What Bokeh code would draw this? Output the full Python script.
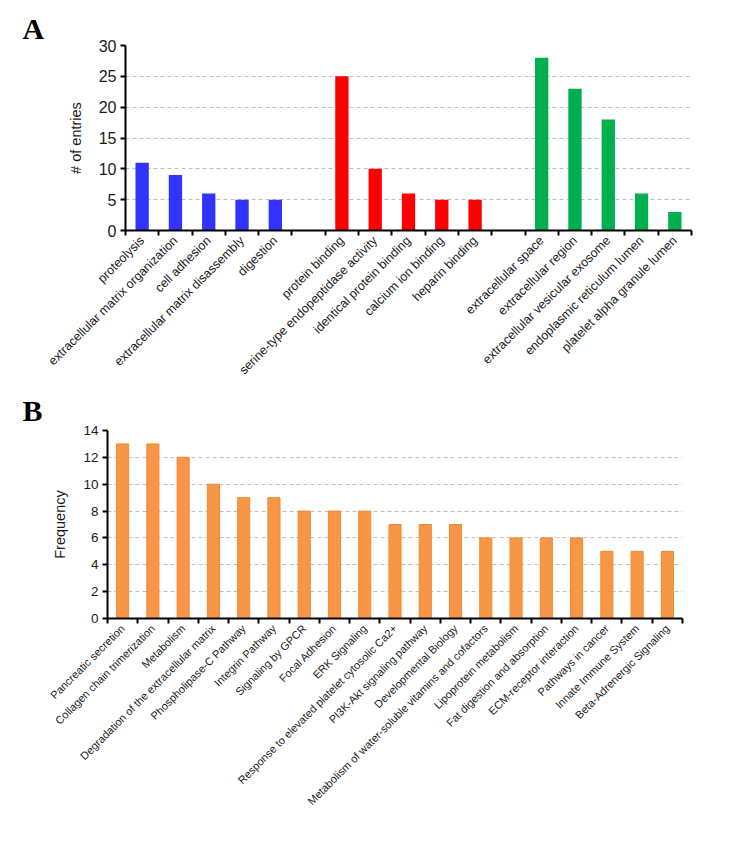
import math
from bokeh.plotting import figure
from bokeh.models import FixedTicker, Title, Range1d, ColumnDataSource
from bokeh.embed import file_html
from bokeh.resources import INLINE

# ---------------- Panel A data ----------------
bp_terms = ["proteolysis", "extracellular matrix organization", "cell adhesion",
            "extracellular matrix disassembly", "digestion"]
bp_counts = [11, 9, 6, 5, 5]
mf_terms = ["protein binding", "serine-type endopeptidase activity", "identical protein binding",
            "calcium ion binding", "heparin binding"]
mf_counts = [25, 10, 6, 5, 5]
cc_terms = ["extracellular space", "extracellular region", "extracellular vesicular exosome",
            "endoplasmic reticulum lumen", "platelet alpha granule lumen"]
cc_counts = [28, 23, 18, 6, 3]
group_colors = ["#3333FF", "#FF0000", "#00B050"]
a_yticks = [0, 5, 10, 15, 20, 25, 30]

# ---------------- Panel B data ----------------
pathways = ["Pancreatic secretion", "Collagen chain trimerization", "Metabolism",
            "Degradation of the extracellular matrix", "Phospholipase-C Pathway",
            "Integrin Pathway", "Signaling by GPCR", "Focal Adhesion", "ERK Signaling",
            "Response to elevated platelet cytosolic Ca2+", "PI3K-Akt signaling pathway",
            "Developmental Biology", "Metabolism of water-soluble vitamins and cofactors",
            "Lipoprotein metabolism", "Fat digestion and absorption", "ECM-receptor interaction",
            "Pathways in cancer", "Innate Immune System", "Beta-Adrenergic Signaling"]
pathway_freq = [13, 13, 12, 10, 9, 9, 8, 8, 8, 7, 7, 7, 6, 6, 6, 6, 5, 5, 5]
b_color = "#F79646"
b_yticks = [0, 2, 4, 6, 8, 10, 12, 14]

LABEL_FONT = "Liberation Sans"


def style_axes(p, ylabel, ytick_size, ylabel_size, xlabel_size):
    p.outline_line_color = None
    p.xgrid.grid_line_color = None
    p.ygrid.grid_line_color = "#BFBFBF"
    p.ygrid.grid_line_dash = "4 3"
    p.ygrid.grid_line_width = 1
    for ax in (p.xaxis[0], p.yaxis[0]):
        ax.axis_line_color = "black"
        ax.axis_line_width = 2
        ax.major_tick_line_color = "black"
        ax.major_tick_line_width = 2
        ax.minor_tick_line_color = "black"
        ax.minor_tick_line_width = 2
        ax.major_label_text_font = LABEL_FONT
        ax.major_label_text_color = "#1a1a1a"
    p.yaxis.major_tick_out = 5
    p.yaxis.major_tick_in = 0
    p.yaxis.minor_tick_out = 0
    p.yaxis.minor_tick_in = 0
    p.yaxis.major_label_text_font_size = ytick_size
    p.yaxis.major_label_standoff = 4
    p.yaxis.axis_label = ylabel
    p.yaxis.axis_label_text_font = LABEL_FONT
    p.yaxis.axis_label_text_font_style = "normal"
    p.yaxis.axis_label_text_font_size = ylabel_size
    p.yaxis.axis_label_text_color = "#1a1a1a"
    p.yaxis.axis_label_standoff = 12
    p.xaxis.major_tick_out = 0
    p.xaxis.major_tick_in = 0
    p.xaxis.minor_tick_out = 5
    p.xaxis.minor_tick_in = 0
    p.xaxis.major_label_orientation = math.pi / 4
    p.xaxis.major_label_text_font_size = xlabel_size
    p.xaxis.major_label_standoff = 3


# ---------------- Panel A ----------------
groups = [(bp_terms, bp_counts), (mf_terms, mf_counts), (cc_terms, cc_counts)]
n_slots = sum(len(t) for t, _ in groups) + len(groups) - 1
pa = figure(width=725, height=385, output_backend="svg", toolbar_location=None,
            x_range=Range1d(0, n_slots), y_range=Range1d(0, 30),
            min_border_left=125, min_border_right=34, min_border_top=45, min_border_bottom=155)
overrides_a = {}
centers_a = []
offset = 0
for gi, (terms, counts) in enumerate(groups):
    xs = [offset + i + 0.5 for i in range(len(terms))]
    src = ColumnDataSource(dict(x=xs, top=counts))
    pa.vbar(x="x", top="top", width=0.4, bottom=0, source=src,
            fill_color=group_colors[gi], line_color=None)
    for x, t in zip(xs, terms):
        overrides_a[x] = t
        centers_a.append(x)
    offset += len(terms) + 1
pa.xaxis.ticker = FixedTicker(ticks=centers_a, minor_ticks=list(range(n_slots + 1)))
pa.xaxis.major_label_overrides = overrides_a
pa.yaxis.ticker = FixedTicker(ticks=a_yticks)
style_axes(pa, "# of entries", "16px", "14.5px", "12.5px")
ta = Title(text="A", align="left", offset=-103, standoff=2,
           text_font="Liberation Serif", text_font_style="bold", text_font_size="30px",
           text_color="black")
pa.add_layout(ta, "above")

# ---------------- Panel B ----------------
nb = len(pathways)
pb = figure(width=725, height=450, output_backend="svg", toolbar_location=None,
            x_range=Range1d(0, nb), y_range=Range1d(0, 14),
            min_border_left=107, min_border_right=43, min_border_top=45, min_border_bottom=217)
xs_b = [i + 0.5 for i in range(nb)]
srcb = ColumnDataSource(dict(x=xs_b, top=pathway_freq))
pb.vbar(x="x", top="top", width=0.4, bottom=0, source=srcb,
        fill_color=b_color, line_color="#F08A30", line_width=1)
pb.xaxis.ticker = FixedTicker(ticks=xs_b, minor_ticks=list(range(nb + 1)))
pb.xaxis.major_label_overrides = {x: t for x, t in zip(xs_b, pathways)}
pb.yaxis.ticker = FixedTicker(ticks=b_yticks)
style_axes(pb, "Frequency", "13.5px", "14.5px", "11px")
tb = Title(text="B", align="left", offset=-85, standoff=8,
           text_font="Liberation Serif", text_font_style="bold", text_font_size="30px",
           text_color="black")
pb.add_layout(tb, "above")

open("out.html", "w").write(file_html([pa, pb], INLINE))
